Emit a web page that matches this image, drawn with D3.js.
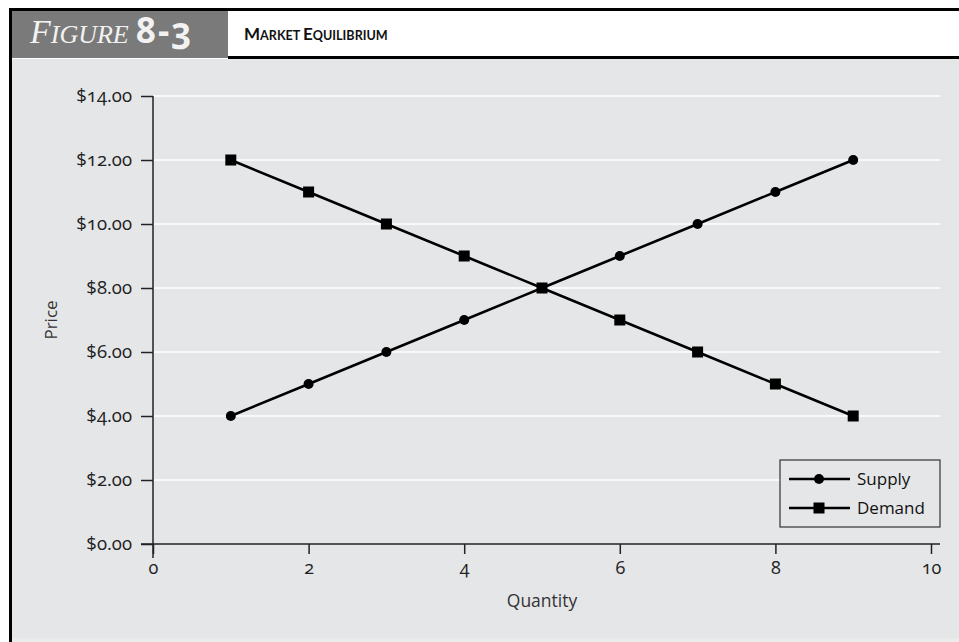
<!DOCTYPE html>
<html>
<head>
<meta charset="utf-8">
<script src="https://cdn.jsdelivr.net/npm/d3@7"></script>
<style>
  html, body { margin: 0; padding: 0; background: #fff; }
  svg { display: block; }
  .num { font-family: "Open Sans", "Noto Sans", sans-serif; font-feature-settings: "onum" 1; font-variant-numeric: oldstyle-nums; }
</style>
</head>
<body>
<svg id="chart" width="959" height="642"></svg>
<script>
// Market equilibrium: supply and demand schedules
const quantity = [1, 2, 3, 4, 5, 6, 7, 8, 9];
const supplyPrice = [4, 5, 6, 7, 8, 9, 10, 11, 12];
const demandPrice = [12, 11, 10, 9, 8, 7, 6, 5, 4];
const xTicks = [0, 2, 4, 6, 8, 10];
const yTicks = [0, 2, 4, 6, 8, 10, 12, 14];
const seriesNames = ["Supply", "Demand"];

const W = 959, H = 642;
const svg = d3.select("#chart");

// panel background
svg.append("rect").attr("x", 12).attr("y", 59).attr("width", W - 12).attr("height", 579).attr("fill", "#e5e6e8");
svg.append("rect").attr("x", 12).attr("y", 638).attr("width", W - 12).attr("height", 4).attr("fill", "#ebebec");

// header band
svg.append("rect").attr("x", 12).attr("y", 11).attr("width", 216).attr("height", 47).attr("fill", "#7a7a7a");
svg.append("rect").attr("x", 9).attr("y", 8).attr("width", W - 9).attr("height", 3).attr("fill", "#000");
svg.append("rect").attr("x", 228).attr("y", 56).attr("width", W - 228).attr("height", 3).attr("fill", "#000");
svg.append("rect").attr("x", 9).attr("y", 8).attr("width", 3).attr("height", H - 8).attr("fill", "#000");

const fig = svg.append("text").attr("x", 30).attr("y", 43).attr("fill", "#f2f2f2");
fig.append("tspan").attr("font-family", "Liberation Serif, serif").attr("font-style", "italic").attr("font-size", 34).text("F");
fig.append("tspan").attr("font-family", "Liberation Serif, serif").attr("font-style", "italic").attr("font-size", 26).text("IGURE");
fig.append("tspan").attr("class", "num").attr("font-weight", "bold").attr("font-size", 35)
  .attr("letter-spacing", 2).attr("dx", 7).text("8-3");

const ttl = svg.append("text").attr("x", 244).attr("y", 40).attr("fill", "#111")
  .attr("font-family", "Lato, sans-serif").attr("font-weight", "bold");
[["M", 17], ["ARKET ", 12.6], ["E", 17], ["QUILIBRIUM", 12.6]].forEach(([t, s]) =>
  ttl.append("tspan").attr("font-size", s).text(t));

// plot scales
const x = d3.scaleLinear().domain([0, 10]).range([153, 931]);
const y = d3.scaleLinear().domain([0, 14]).range([544, 96]);
const plotRight = 940;

// horizontal grid
svg.append("g").selectAll("line").data(yTicks.filter(d => d > 0)).join("line")
  .attr("x1", x(0)).attr("x2", plotRight)
  .attr("y1", d => y(d)).attr("y2", d => y(d))
  .attr("stroke", "#fff").attr("stroke-width", 1.5);

// axes
const yAxis = svg.append("g").attr("transform", `translate(${x(0)},0)`)
  .call(d3.axisLeft(y).tickValues(yTicks).tickSize(12).tickPadding(9).tickFormat(d => "$" + d.toFixed(2)));
yAxis.select(".domain").attr("d", `M0,${y(14)}V${y(0) + 14}`).attr("stroke", "#222").attr("stroke-width", 1.5);
yAxis.selectAll(".tick line").attr("stroke", "#222").attr("stroke-width", 1.5);
yAxis.selectAll(".tick text").attr("class", "num").attr("font-size", 18.5).attr("fill", "#222");

const xAxis = svg.append("g").attr("transform", `translate(0,${y(0)})`)
  .call(d3.axisBottom(x).tickValues(xTicks).tickSize(10).tickPadding(7));
xAxis.select(".domain").attr("d", `M${x(0) - 12},0H${plotRight}`).attr("stroke", "#222").attr("stroke-width", 1.5);
xAxis.selectAll(".tick line").attr("stroke", "#222").attr("stroke-width", 1.5);
xAxis.selectAll(".tick text").attr("class", "num").attr("font-size", 18).attr("fill", "#222");

// axis titles
svg.append("text").attr("x", x(5)).attr("y", 607).attr("text-anchor", "middle")
  .attr("font-family", "Open Sans, sans-serif").attr("font-size", 17.5).attr("fill", "#333").text("Quantity");
svg.append("text").attr("transform", `translate(57,${y(7)}) rotate(-90)`).attr("text-anchor", "middle")
  .attr("font-family", "Open Sans, sans-serif").attr("font-size", 17).attr("fill", "#333").text("Price");

// series
const line = d3.line().x(d => x(d[0])).y(d => y(d[1]));
const supply = quantity.map((q, i) => [q, supplyPrice[i]]);
const demand = quantity.map((q, i) => [q, demandPrice[i]]);

svg.append("path").datum(supply).attr("d", line).attr("fill", "none").attr("stroke", "#000").attr("stroke-width", 2.5);
svg.append("path").datum(demand).attr("d", line).attr("fill", "none").attr("stroke", "#000").attr("stroke-width", 2.5);

svg.append("g").selectAll("circle").data(supply).join("circle")
  .attr("cx", d => x(d[0])).attr("cy", d => y(d[1])).attr("r", 5).attr("fill", "#000");
const sq = 11;
svg.append("g").selectAll("rect").data(demand).join("rect")
  .attr("x", d => x(d[0]) - sq / 2).attr("y", d => y(d[1]) - sq / 2)
  .attr("width", sq).attr("height", sq).attr("fill", "#000");

// legend
const lg = svg.append("g").attr("transform", "translate(780,460)");
lg.append("rect").attr("width", 160).attr("height", 67).attr("fill", "#e5e6e8").attr("stroke", "#333").attr("stroke-width", 1.2);
seriesNames.forEach((name, i) => {
  const cy = 19 + i * 29;
  lg.append("line").attr("x1", 9).attr("x2", 70).attr("y1", cy).attr("y2", cy).attr("stroke", "#000").attr("stroke-width", 2.5);
  if (i === 0) lg.append("circle").attr("cx", 39).attr("cy", cy).attr("r", 5).attr("fill", "#000");
  else lg.append("rect").attr("x", 39 - sq / 2).attr("y", cy - sq / 2).attr("width", sq).attr("height", sq).attr("fill", "#000");
  lg.append("text").attr("x", 77).attr("y", cy + 6).attr("font-family", "Open Sans, sans-serif")
    .attr("font-size", 17).attr("fill", "#111").text(name);
});
</script>
</body>
</html>
